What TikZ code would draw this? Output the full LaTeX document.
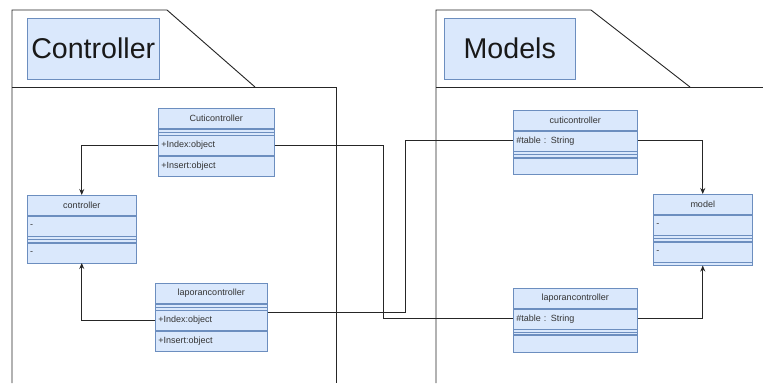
\documentclass[tikz,border=0pt]{standalone}
\usepackage{fontspec}
\setmainfont{Liberation Sans}
\usetikzlibrary{positioning, arrows.meta}
\definecolor{umlfill}{HTML}{DAE8FC}
\definecolor{umlline}{HTML}{6C8EBF}
\definecolor{umltext}{HTML}{333333}

\begin{document}
\begin{tikzpicture}[x=1pt, y=-1pt, node distance=0pt,
    pkg/.style = {draw=black!85, line width=0.9pt},
    title/.style = {draw=umlline, fill=umlfill, line width=0.5pt, minimum height=61pt, anchor=north west, text=black!90, font=\fontsize{28.6}{32}\selectfont},
    head/.style = {draw=umlline, fill=umlfill, line width=0.5pt, minimum width=#1, minimum height=20pt, inner sep=0pt, text=umltext, font=\fontsize{9}{10}\selectfont},
    row/.style = {draw=umlline, fill=umlfill, line width=0.5pt, text width=#1, align=left, minimum height=20pt, inner xsep=3pt, inner ysep=0pt, text=umltext, font=\fontsize{9}{10}\selectfont},
    sepbar/.style = {draw=umlline, fill=umlfill, line width=0.5pt, minimum width=#1, minimum height=6pt, inner sep=0pt,
        path picture={\draw[umlline, line width=0.5pt] (path picture bounding box.west) -- (path picture bounding box.east);}},
    blank/.style = {draw=umlline, fill=umlfill, line width=0.5pt, minimum width=#1, inner sep=0pt},
    link/.style = {draw=black!85, line width=0.9pt},
    arr/.style = {link, -{Stealth[length=6pt, width=5pt]}}]
    \useasboundingbox (0,0) rectangle (763,383);

    % packages
    \draw[pkg] (12,383) -- (12,10) -- (167,10) -- (255,87);
    \draw[pkg] (12,87) -- (336,87) -- (336,383);
    \draw[pkg] (436,383) -- (436,10) -- (591,10) -- (690,87);
    \draw[pkg] (436,87) -- (763,87);
    \node[title, minimum width=132pt] (tctl) at (27,18) {Controller};
    \node[title, minimum width=131pt] (tmod) at (444,18) {Models};

    % Controller package
    \node[head=116pt, anchor=north west] (cuti) at (158,108) {Cuticontroller};
    \node[sepbar=116pt] (cutiSep) [below=of cuti] {};
    \node[row=110pt] (cutiIndex) [below=of cutiSep] {+Index:object};
    \node[row=110pt] (cutiInsert) [below=of cutiIndex] {+Insert:object};

    \node[head=109pt, anchor=north west] (ctl) at (27,195) {controller};
    \node[row=103pt] (ctlAttr) [below=of ctl] {-};
    \node[sepbar=109pt] (ctlSep) [below=of ctlAttr] {};
    \node[row=103pt] (ctlOp) [below=of ctlSep] {-};

    \node[head=112pt, anchor=north west] (lap) at (155,283) {laporancontroller};
    \node[sepbar=112pt] (lapSep) [below=of lap] {};
    \node[row=106pt] (lapIndex) [below=of lapSep] {+Index:object};
    \node[row=106pt] (lapInsert) [below=of lapIndex] {+Insert:object};

    % Models package
    \node[head=124pt, anchor=north west] (mcuti) at (513,110) {cuticontroller};
    \node[row=118pt] (mcutiTable) [below=of mcuti] {\#table : String};
    \node[sepbar=124pt] (mcutiSep) [below=of mcutiTable] {};
    \node[blank=124pt, minimum height=16pt] (mcutiOps) [below=of mcutiSep] {};

    \node[head=99pt, anchor=north west] (mdl) at (653,194) {model};
    \node[row=93pt] (mdlAttr) [below=of mdl] {-};
    \node[sepbar=99pt] (mdlSep) [below=of mdlAttr] {};
    \node[row=93pt] (mdlOp) [below=of mdlSep] {-};
    \node[blank=99pt, minimum height=3pt] (mdlEnd) [below=of mdlOp] {};

    \node[head=124pt, anchor=north west] (mlap) at (513,288) {laporancontroller};
    \node[row=118pt] (mlapTable) [below=of mlap] {\#table : String};
    \node[sepbar=124pt, minimum height=5pt] (mlapSep) [below=of mlapTable] {};
    \node[blank=124pt, minimum height=17pt] (mlapOps) [below=of mlapSep] {};

    % connectors
    \draw[arr] (cutiIndex.west) -| (ctl.north);
    \draw[arr] (lapIndex.west) -| (ctlOp.south);
    \draw[link] (cutiIndex.east) -- ++(109,0) |- (mlapTable.west);
    \draw[link] ([yshift=-2pt]lapSep.south east) -- ++(138,0) |- (mcutiTable.west);
    \draw[arr] (mcutiTable.east) -| (mdl.north);
    \draw[arr] (mlapTable.east) -| (mdlEnd.south);
\end{tikzpicture}
\end{document}
